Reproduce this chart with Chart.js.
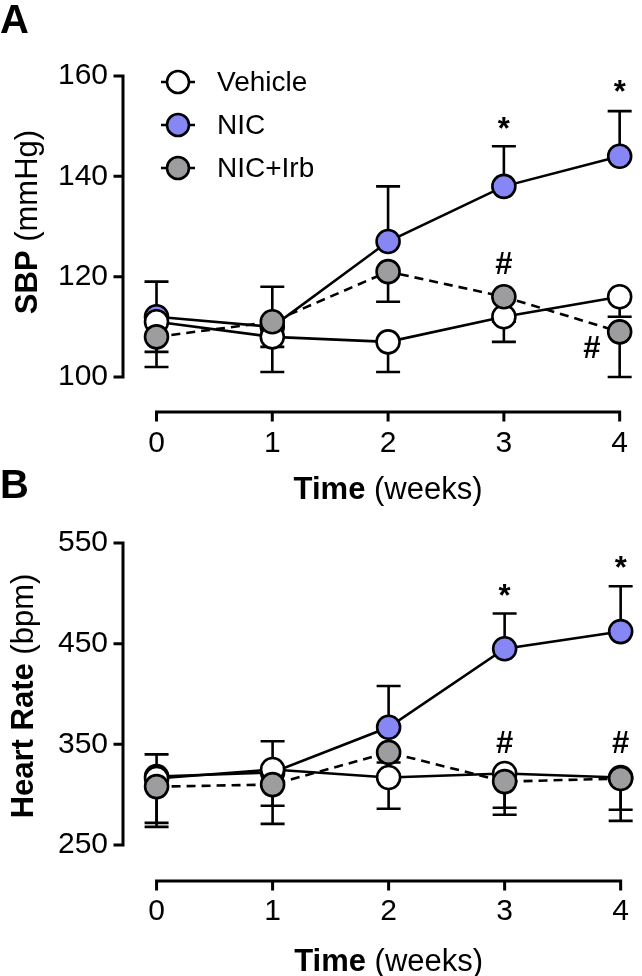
<!DOCTYPE html>
<html>
<head>
<meta charset="utf-8">
<script src="https://cdn.jsdelivr.net/npm/chart.js@4.4.0/dist/chart.umd.min.js"></script>
<style>
  html, body { margin: 0; padding: 0; background: #fff; }
  #wrap { position: relative; width: 642px; height: 976px; overflow: hidden; }
  .box { position: absolute; left: 0; width: 642px; height: 510px; }
  #boxA { top: 0; }
  #boxB { top: 466px; }
</style>
</head>
<body>
<div id="wrap">
  <div class="box" id="boxA"><canvas id="chartA" width="642" height="510"></canvas></div>
  <div class="box" id="boxB"><canvas id="chartB" width="642" height="510"></canvas></div>
</div>
<script>
// x values (weeks)
const weeks = [0, 1, 2, 3, 4];
const groups = ['Vehicle', 'NIC', 'NIC+Irb'];

// panel A - systolic blood pressure (mmHg), mean and SEM
const sbpVehicle = [111, 108, 107, 112, 116];
const sbpVehicleSem = [6, 7, 6, 5, 4];
const sbpNic = [112, 110, 127, 138, 144];
const sbpNicSem = [7, 8, 11, 8, 9];
const sbpIrb = [108, 111, 121, 116, 109];
const sbpIrbSem = [6, 5, 6, 5, 9];
const sbpTicks = [100, 120, 140, 160];
const sbpMarks = [
  { x: 3, y: 150.6, t: '*' }, { x: 4, y: 158, t: '*' },
  { x: 3, y: 122.7, t: '#' }, { x: 3.76, y: 106, t: '#' }
];

// panel B - heart rate (bpm), mean and SEM
const hrVehicle = [316, 325, 317, 321, 317];
const hrVehicleSem = [48, 36, 31, 41, 32];
const hrNic = [318, 322, 367, 445, 462];
const hrNicSem = [22, 31, 41, 35, 45];
const hrIrb = [308, 310, 342, 313, 316];
const hrIrbSem = [36, 39, 10, 26, 42];
const hrTicks = [250, 350, 450, 550];
const hrMarks = [
  { x: 3, y: 503, t: '*' }, { x: 4, y: 531, t: '*' },
  { x: 3, y: 352, t: '#' }, { x: 4, y: 352, t: '#' }
];

const fam = '"Liberation Sans", Arial, Helvetica, sans-serif';
const colVehicle = '#ffffff';
const colNic = '#8686f4';
const colIrb = '#9d9d9f';

const errorBars = {
  id: 'errorBars',
  beforeDatasetsDraw(chart) {
    const { ctx, scales: { x, y } } = chart;
    ctx.save();
    ctx.strokeStyle = '#000';
    ctx.lineWidth = 2.6;
    chart.data.datasets.forEach(ds => {
      ds.data.forEach((p, i) => {
        const px = x.getPixelForValue(p.x);
        const y0 = y.getPixelForValue(p.y);
        const y1 = y.getPixelForValue(p.y + ds.semDir * ds.sem[i]);
        ctx.beginPath();
        ctx.moveTo(px, y0); ctx.lineTo(px, y1);
        ctx.moveTo(px - 12, y1); ctx.lineTo(px + 12, y1);
        ctx.stroke();
      });
    });
    ctx.restore();
  }
};

const axisLines = {
  id: 'axisLines',
  beforeDatasetsDraw(chart) {
    const { ctx, scales: { x, y } } = chart;
    const yt = chart.options.yTickList;
    ctx.save();
    ctx.strokeStyle = '#000';
    ctx.lineWidth = 3;
    ctx.lineCap = 'square';
    // y axis
    const ax = x.left;
    ctx.beginPath();
    ctx.moveTo(ax, y.getPixelForValue(yt[0]));
    ctx.lineTo(ax, y.getPixelForValue(yt[yt.length - 1]));
    yt.forEach(v => {
      const py = y.getPixelForValue(v);
      ctx.moveTo(ax - 8, py); ctx.lineTo(ax, py);
    });
    // x axis
    const by = y.bottom;
    ctx.moveTo(x.getPixelForValue(weeks[0]), by);
    ctx.lineTo(x.getPixelForValue(weeks[weeks.length - 1]), by);
    weeks.forEach(w => {
      const px = x.getPixelForValue(w);
      ctx.moveTo(px, by); ctx.lineTo(px, by + 8);
    });
    ctx.stroke();
    ctx.restore();
  }
};

function drawMixed(ctx, parts, cx, cy, rotate) {
  ctx.save();
  ctx.translate(cx, cy);
  if (rotate) ctx.rotate(-Math.PI / 2);
  let total = 0;
  parts.forEach(p => { ctx.font = p.font; p.w = ctx.measureText(p.text).width; total += p.w; });
  let xx = -total / 2;
  ctx.textAlign = 'left';
  ctx.textBaseline = 'middle';
  ctx.fillStyle = '#000';
  parts.forEach(p => { ctx.font = p.font; ctx.fillText(p.text, xx, 0); xx += p.w; });
  ctx.restore();
}

const extras = {
  id: 'extras',
  afterDraw(chart) {
    const { ctx, scales: { x, y } } = chart;
    const o = chart.options.extra;
    ctx.save();
    ctx.fillStyle = '#000';
    // panel letter
    ctx.font = 'bold 40px ' + fam;
    ctx.textAlign = 'left';
    ctx.textBaseline = 'top';
    ctx.fillText(o.letter, 0, o.letterY);
    // axis titles
    drawMixed(ctx, [
      { text: o.yBold, font: 'bold 31px ' + fam },
      { text: o.yRest, font: '31px ' + fam }
    ], o.yTitleX, o.yTitleY, true);
    drawMixed(ctx, [
      { text: 'Time', font: 'bold 31px ' + fam },
      { text: ' (weeks)', font: '31px ' + fam }
    ], x.getPixelForValue(2), o.xTitleY, false);
    // significance marks
    o.marks.forEach(m => {
      ctx.font = 'bold 31px ' + fam;
      ctx.textAlign = 'center';
      ctx.textBaseline = 'alphabetic';
      const mt = ctx.measureText(m.t);
      const cy = y.getPixelForValue(m.y);
      ctx.fillText(m.t, x.getPixelForValue(m.x), cy + (mt.actualBoundingBoxAscent - mt.actualBoundingBoxDescent) / 2);
    });
    // legend
    if (o.legend) {
      chart.data.datasets.slice().sort((a, b) => a.legendRow - b.legendRow).forEach((ds, i) => {
        const ly = 82 + i * 43;
        ctx.strokeStyle = '#000';
        ctx.lineWidth = 2.6;
        ctx.beginPath();
        ctx.moveTo(161, ly); ctx.lineTo(195, ly);
        ctx.stroke();
        ctx.beginPath();
        ctx.arc(178, ly, 11, 0, Math.PI * 2);
        ctx.fillStyle = ds.pointBackgroundColor;
        ctx.fill();
        ctx.stroke();
        ctx.fillStyle = '#000';
        ctx.font = '28px ' + fam;
        ctx.textAlign = 'left';
        ctx.textBaseline = 'middle';
        ctx.fillText(ds.label, 217, ly + 1);
      });
    }
    ctx.restore();
  }
};

function series(label, vals, sem, dir, fill, dash, order, row) {
  return {
    label: label,
    data: weeks.map((w, i) => ({ x: w, y: vals[i] })),
    sem: sem,
    semDir: dir,
    legendRow: row,
    borderColor: '#000',
    borderWidth: 2.6,
    borderDash: dash,
    pointRadius: 11.5,
    pointHoverRadius: 11.5,
    pointBorderWidth: 2.6,
    pointBackgroundColor: fill,
    pointBorderColor: '#000',
    tension: 0,
    clip: false,
    order: order
  };
}

function buildChart(id, c) {
  return new Chart(document.getElementById(id), {
    type: 'line',
    data: {
      datasets: [
        series(groups[0], c.veh, c.vehSem, -1, colVehicle, [], 1, 0),
        series(groups[1], c.nic, c.nicSem, 1, colNic, [], 2, 1),
        series(groups[2], c.irb, c.irbSem, -1, colIrb, [9, 6], 0, 2)
      ]
    },
    options: {
      responsive: false,
      animation: false,
      events: [],
      yTickList: c.ticks,
      extra: c.extra,
      layout: { padding: { top: c.top, right: 15, left: 0, bottom: 0 } },
      plugins: { legend: { display: false }, tooltip: { enabled: false } },
      scales: {
        x: {
          type: 'linear',
          min: -0.2894,
          max: 4,
          grid: { display: false, drawTicks: false },
          border: { display: false },
          afterBuildTicks: s => { s.ticks = weeks.map(v => ({ value: v })); },
          afterFit: s => { s.height = c.xHeight; },
          ticks: { padding: c.xPad, color: '#000', font: { family: fam, size: 30 }, maxRotation: 0, autoSkip: false }
        },
        y: {
          min: c.ymin,
          max: c.ymax,
          grid: { display: false, drawTicks: false },
          border: { display: false },
          afterBuildTicks: s => { s.ticks = c.ticks.map(v => ({ value: v })); },
          afterFit: s => { s.width = 123; },
          ticks: { padding: 15, color: '#000', font: { family: fam, size: 30 } }
        }
      }
    },
    plugins: [axisLines, errorBars, extras]
  });
}

buildChart('chartA', {
  veh: sbpVehicle, vehSem: sbpVehicleSem,
  nic: sbpNic, nicSem: sbpNicSem,
  irb: sbpIrb, irbSem: sbpIrbSem,
  ticks: sbpTicks, ymin: 93.02, ymax: 160,
  top: 76, xHeight: 98, xPad: 14,
  extra: { letter: 'A', letterY: 2, yBold: 'SBP', yRest: ' (mmHg)', yTitleX: 28, yTitleY: 222, xTitleY: 490, marks: sbpMarks, legend: true }
});

buildChart('chartB', {
  veh: hrVehicle, vehSem: hrVehicleSem,
  nic: hrNic, nicSem: hrNicSem,
  irb: hrIrb, irbSem: hrIrbSem,
  ticks: hrTicks, ymin: 214.24, ymax: 550,
  top: 77, xHeight: 95, xPad: 13,
  extra: { letter: 'B', letterY: 1, yBold: 'Heart Rate', yRest: ' (bpm)', yTitleX: 24, yTitleY: 230, xTitleY: 496, marks: hrMarks, legend: false }
});
</script>
</body>
</html>
